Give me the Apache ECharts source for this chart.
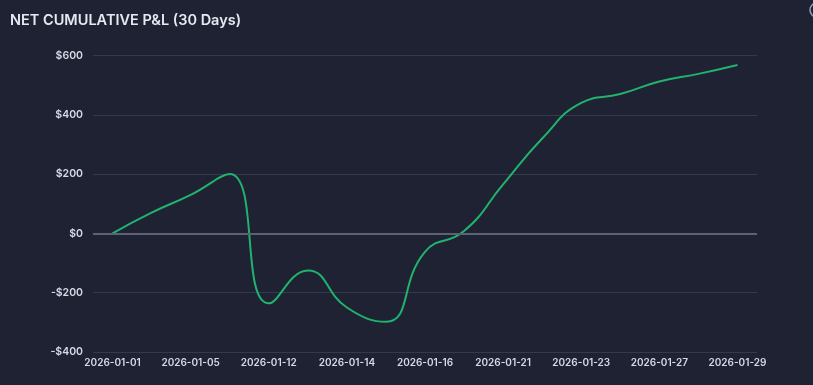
<!DOCTYPE html>
<html>
<head>
<meta charset="utf-8">
<script src="https://cdn.jsdelivr.net/npm/echarts@6/dist/echarts.min.js"></script>
<style>
html,body{margin:0;padding:0;background:#1e2232;}
#c{width:813px;height:385px;}
</style>
</head>
<body>
<div id="c"></div>
<script>
const categories = ['2026-01-01','2026-01-02','2026-01-05','2026-01-08','2026-01-12','2026-01-13','2026-01-14','2026-01-15','2026-01-16','2026-01-20','2026-01-21','2026-01-22','2026-01-23','2026-01-26','2026-01-27','2026-01-28','2026-01-29'];
const pnl = [0, 70, 130, 200, -236, -125, -250, -298, -62, 8, 165, 320, 440, 470, 512, 538, 568];
const yTicks = { min: -400, max: 600, interval: 200 };

const chart = echarts.init(document.getElementById('c'), null, {renderer:'canvas'});
chart.setOption({
  backgroundColor: '#1e2232',
  animation: false,
  title: {
    text: 'NET CUMULATIVE P&L (30 Days)',
    left: 5, top: 8,
    textStyle: { color: '#e4e9f2', fontSize: 14.5, fontWeight: 600, fontFamily: 'Inter' }
  },
  grid: { left: 93, right: 56, top: 55.5, bottom: 33 },
  xAxis: {
    type: 'category',
    data: categories,
    boundaryGap: true,
    axisLine: { show: false },
    axisTick: { show: false },
    axisLabel: { interval: 1, color: '#d4dbe6', fontSize: 10, fontWeight: 600, fontFamily: 'Inter', margin: 6 },
    splitLine: { show: false }
  },
  yAxis: {
    type: 'value',
    min: yTicks.min, max: yTicks.max, interval: yTicks.interval,
    axisLine: { show: false },
    axisTick: { show: false },
    axisLabel: {
      color: '#d4dbe6', fontSize: 10.5, fontWeight: 600, fontFamily: 'Inter', margin: 10,
      formatter: v => (v < 0 ? '-$' + Math.abs(v) : '$' + v)
    },
    splitLine: { lineStyle: { color: '#343a4c', width: 1 } }
  },
  series: [{
    type: 'line',
    data: pnl,
    smooth: 0.5,
    showSymbol: false,
    symbol: 'none',
    lineStyle: { color: '#21b36e', width: 2 },
    markLine: {
      silent: true,
      symbol: ['none','none'],
      label: { show: false },
      lineStyle: { color: '#5c6276', width: 2, type: 'solid' },
      data: [{ yAxis: 0 }]
    }
  }],
  graphic: [{
    type: 'circle',
    shape: { cx: 817, cy: 10, r: 7 },
    style: { fill: 'none', stroke: '#8fa3c0', lineWidth: 1.5 }
  }]
});
</script>
</body>
</html>
